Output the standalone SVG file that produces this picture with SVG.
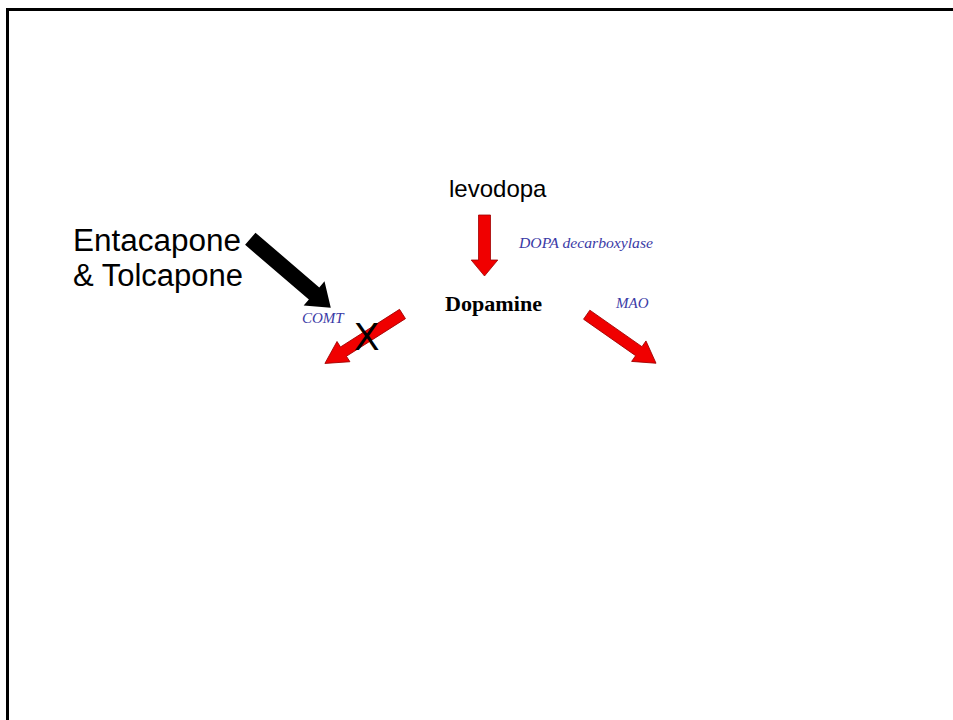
<svg xmlns="http://www.w3.org/2000/svg" width="953" height="720" viewBox="0 0 953 720">
<style>
.sans{font-family:"Liberation Sans",Arial,sans-serif;fill:#000}
.enz{font-family:"Liberation Serif","Times New Roman",serif;font-style:italic;fill:#3a3aa6}
.red{fill:#f00000;stroke:#a00000;stroke-width:0.8;stroke-linejoin:miter}
</style>
<rect width="953" height="720" fill="#fff"/>
<path d="M7.5,725 V9.5 H960" fill="none" stroke="#000" stroke-width="3"/>
<g id="connectors">
<polygon id="arrow-ddc" class="red" transform="translate(484.5,215) rotate(90)" points="0,-6 45,-6 45,-13.3 61,0 45,13.3 45,6 0,6"/>
<polygon id="arrow-comt" class="red" transform="translate(402.5,314) rotate(147.5)" points="0,-5.5 70,-5.5 70,-12 92,0 70,12 70,5.5 0,5.5"/>
<polygon id="arrow-mao" class="red" transform="translate(586.7,314.7) rotate(35)" points="0,-5.5 63.6,-5.5 63.6,-12.5 84.6,0 63.6,12.5 63.6,5.5 0,5.5"/>
<polygon id="arrow-inhibit" fill="#000" transform="translate(250.3,238.8) rotate(40.6)" points="0,-8 84,-8 84,-16 106,0 84,16 84,8 0,8"/>
</g>
<g id="levodopa"><text class="sans" x="449" y="197" font-size="24">levodopa</text></g>
<g id="ddc"><text class="enz" x="519" y="248" font-size="15" textLength="134" lengthAdjust="spacingAndGlyphs">DOPA decarboxylase</text></g>
<g id="dopamine"><text x="445" y="311" font-size="21" font-weight="bold" font-family="'Liberation Serif','Times New Roman',serif" textLength="97" lengthAdjust="spacingAndGlyphs">Dopamine</text></g>
<g id="mao"><text class="enz" x="616" y="308" font-size="15">MAO</text></g>
<g id="comt"><text class="enz" x="302" y="323" font-size="15">COMT</text></g>
<g id="inhibitors"><text class="sans" font-size="31"><tspan x="73" y="251" textLength="168" lengthAdjust="spacingAndGlyphs">Entacapone</tspan><tspan x="73" y="286" textLength="170" lengthAdjust="spacingAndGlyphs">&amp; Tolcapone</tspan></text></g>
<g id="block"><text class="sans" x="354" y="350" font-size="38">X</text></g>
</svg>
